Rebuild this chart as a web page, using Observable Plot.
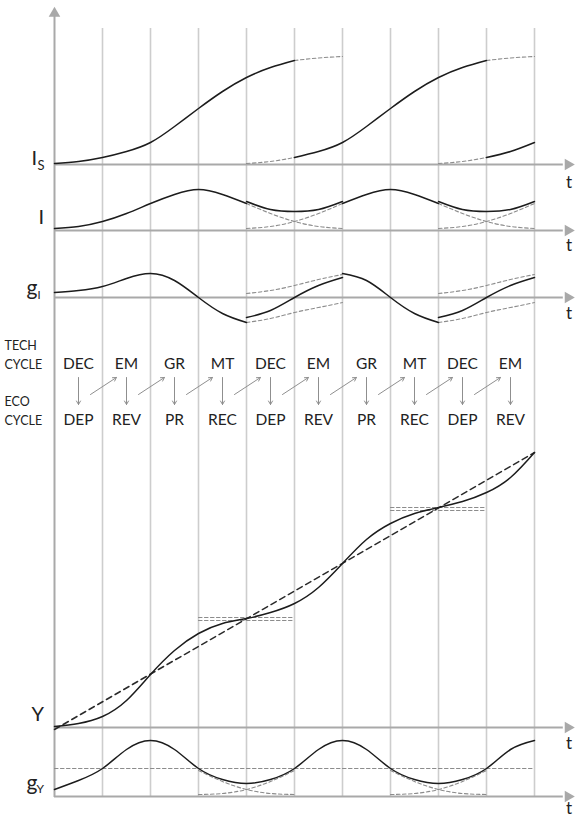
<!DOCTYPE html>
<html><head><meta charset="utf-8">
<script src="https://cdn.jsdelivr.net/npm/d3@7"></script>
<script src="https://cdn.jsdelivr.net/npm/@observablehq/plot@0.6"></script>
<style>body{margin:0;background:#fff}#chart{width:576px;height:818px}</style>
</head><body><div id="chart"></div>
<script>
// ---------------- DATA ----------------
const techPhases = ["DEC","EM","GR","MT","DEC","EM","GR","MT","DEC","EM"];
const ecoPhases  = ["DEP","REV","PR","REC","DEP","REV","PR","REC","DEP","REV"];
const cycleStarts = [0, 4, 8];                 // a new technology cycle every 4 phases

// local time of one cycle, half-phase steps
const localT = [0,0.5,1,1.5,2,2.5,3,3.5,4,4.5,5,5.5,6];
// I_S : S-shaped cumulative stock of one cycle
const isShape = [1,3,7,13,22,38,56,73,87,97,104,106.5,108];
// I : bell-shaped investment of one cycle
const iShape  = [2,4,9,17,27,36,41,36,27,17,9,4,2];
// I during the overlap of two cycles (local time 4..6)
const overlapT = [4,4.5,5,5.5,6];
const iOverlap = [29,21,19,21,29];
// g_I of one cycle (local time 0..4)
const gT = [0,0.5,1,1.5,2,2.5,3,3.5,4];
const gShape = [5,7,11,19,24,17,0,-16,-25];
const gOverlap = [-20,-13,0,12,20];
const gUpper   = [4,7,12,18,23];
const gLower   = [-25,-21,-15,-10,-5];
// Y : output, whole horizon
const fullT = [0,0.5,1,1.5,2,2.5,3,3.5,4,4.5,5,5.5,6,6.5,7,7.5,8,8.5,9,9.5,10];
const yCurve = [1,4,11,27,53,77,94,104,109,115,124,140,164,188,204,214,220,226,235,250,275];
const yTrendT = [0,10];
const yTrend  = [-2,275];
const plateauStarts = [3,7];
const plateauUpper = [110,220];
const plateauLower = [107,217];
// g_Y : growth of output
const gyCurve = [7,16,28,47,56,47,28,17,13,17,28,47,56,47,28,17,13,17,28,47,56];
const gyMean = 28;
const gyWinT  = [0,0.5,1,1.5,2];   // relative to plateau start
const gyDecay = [26,15,7,3,2];
const gyRise  = [2,3,7,15,26];

// ---------------- LAYOUT ----------------
const W = 576, H = 818;
const BASE = {Is:164, I:230, gI:297, Y:727, gY:796};   // axis rows (px from top)
const yy = (panel, v) => H - BASE[panel] + v;
const py = px => H - px;                               // layout px from top -> y scale

let segId = 0;
function seg(ts, vs, panel, offset, from, to) {
  const id = segId++;
  const out = [];
  ts.forEach((t, i) => {
    if (t >= from - 1e-9 && t <= to + 1e-9) out.push({t: t + offset, y: yy(panel, vs[i]), id});
  });
  return out;
}

const solid = [], dashed = [];
// I_S
solid.push(...seg(localT, isShape, "Is", 0, 0, 5));
dashed.push(...seg(localT, isShape, "Is", 0, 5, 6));
dashed.push(...seg(localT, isShape, "Is", 4, 0, 1));
solid.push(...seg(localT, isShape, "Is", 4, 1, 5));
dashed.push(...seg(localT, isShape, "Is", 4, 5, 6));
dashed.push(...seg(localT, isShape, "Is", 8, 0, 1));
solid.push(...seg(localT, isShape, "Is", 8, 1, 2));
// I
solid.push(...seg(localT, iShape, "I", 0, 0, 4));
dashed.push(...seg(localT, iShape, "I", 0, 4, 6));
dashed.push(...seg(localT, iShape, "I", 4, 0, 2));
solid.push(...seg(localT, iShape, "I", 4, 2, 4));
dashed.push(...seg(localT, iShape, "I", 4, 4, 6));
dashed.push(...seg(localT, iShape, "I", 8, 0, 2));
solid.push(...seg(overlapT, iOverlap, "I", 0, 4, 6));
solid.push(...seg(overlapT, iOverlap, "I", 4, 4, 6));
// g_I
solid.push(...seg(gT, gShape, "gI", 0, 0, 4));
solid.push(...seg(gT, gShape, "gI", 4, 2, 4));
for (const o of [0, 4]) {
  solid.push(...seg(overlapT, gOverlap, "gI", o, 4, 6));
  dashed.push(...seg(overlapT, gUpper, "gI", o, 4, 6));
  dashed.push(...seg(overlapT, gLower, "gI", o, 4, 6));
}
// Y
solid.push(...seg(fullT, yCurve, "Y", 0, 0, 10));
plateauStarts.forEach((s, i) => {
  dashed.push(...seg([0, 2], [plateauUpper[i], plateauUpper[i]], "Y", s, 0, 2));
  dashed.push(...seg([0, 2], [plateauLower[i], plateauLower[i]], "Y", s, 0, 2));
});
const trend = seg(yTrendT, yTrend, "Y", 0, 0, 10);
// g_Y
solid.push(...seg(fullT, gyCurve, "gY", 0, 0, 10));
dashed.push(...seg([0, 10], [gyMean, gyMean], "gY", 0, 0, 10));
plateauStarts.forEach(s => {
  dashed.push(...seg(gyWinT, gyDecay, "gY", s, 0, 2));
  dashed.push(...seg(gyWinT, gyRise, "gY", s, 0, 2));
});

const phaseCols = techPhases.map((p, i) => ({t: i + 0.5, tech: p, eco: ecoPhases[i]}));
const diagonals = phaseCols.slice(0, -1);

const AX = "#a9a9a9", GRID = "#cdcdcd", INK = "#222", FONT = "Lato, 'Open Sans', sans-serif";
const axisRows = Object.keys(BASE);
const tLabelRows = [{p:"Is", d:18}, {p:"I", d:15}, {p:"gI", d:16}, {p:"Y", d:16}, {p:"gY", d:12}];

const plot = Plot.plot({
  width: W, height: H,
  marginTop: 0, marginBottom: 0, marginLeft: 0, marginRight: 0,
  x: {domain: [-54/48, (W - 54)/48], axis: null},
  y: {domain: [0, H], axis: null},
  marks: [
    // phase boundaries
    Plot.ruleX(d3.range(1, 11), {y1: py(796), y2: py(28), stroke: GRID, strokeWidth: 1.6}),
    // vertical axis
    Plot.ruleX([0], {y1: py(797), y2: py(14), stroke: AX, strokeWidth: 2}),
    Plot.dot([0], {x: d => d, y: py(13), symbol: "triangle", r: 4.3, fill: AX, stroke: null}),
    // horizontal axes
    Plot.ruleY(axisRows, {y: p => yy(p, 0), x1: 0, x2: 10.6, stroke: AX, strokeWidth: 2}),
    Plot.dot(axisRows, {x: 10.7, y: p => yy(p, 0), symbol: "triangle", rotate: 90, r: 4.3, fill: AX, stroke: null}),
    // curves
    Plot.line(dashed, {x: "t", y: "y", z: "id", curve: "natural", stroke: "#8c8c8c", strokeWidth: 1.1, strokeDasharray: "3.5,2.5"}),
    Plot.line(trend, {x: "t", y: "y", z: "id", stroke: "#2a2a2a", strokeWidth: 1.5, strokeDasharray: "6,4"}),
    Plot.line(solid, {x: "t", y: "y", z: "id", curve: "natural", stroke: "#1c1c1c", strokeWidth: 1.5}),
    // cycle phases
    Plot.text(phaseCols, {x: "t", y: py(364), text: "tech", fontSize: 15.5, fill: INK, fontFamily: FONT}),
    Plot.text(phaseCols, {x: "t", y: py(420), text: "eco", fontSize: 15.5, fill: INK, fontFamily: FONT}),
    Plot.arrow(phaseCols, {x1: "t", x2: "t", y1: py(377), y2: py(404), stroke: "#8f8f8f", strokeWidth: 1, headLength: 6}),
    Plot.arrow(diagonals, {x1: d => d.t + 0.25, x2: d => d.t + 0.79, y1: py(394), y2: py(377), stroke: "#8f8f8f", strokeWidth: 1, headLength: 6}),
    // left labels
    Plot.text(["TECH","CYCLE","ECO","CYCLE"], {frameAnchor: "left", dx: 4, y: (d, i) => py([345, 364, 401, 420][i]), text: d => d, textAnchor: "start", fontSize: 12.5, fill: INK, fontFamily: FONT}),
    Plot.text(["I"], {frameAnchor: "left", dx: 31, y: py(158), textAnchor: "start", text: d => d, fontSize: 20, fill: INK, fontFamily: FONT}),
    Plot.text(["S"], {frameAnchor: "left", dx: 37, y: py(165), textAnchor: "start", text: d => d, fontSize: 13, fill: INK, fontFamily: FONT}),
    Plot.text(["I"], {frameAnchor: "left", dx: 38, y: py(217), textAnchor: "start", text: d => d, fontSize: 20, fill: INK, fontFamily: FONT}),
    Plot.text(["g"], {frameAnchor: "left", dx: 26, y: py(288), textAnchor: "start", text: d => d, fontSize: 21, fill: INK, fontFamily: FONT}),
    Plot.text(["I"], {frameAnchor: "left", dx: 37, y: py(295), textAnchor: "start", text: d => d, fontSize: 11, fill: INK, fontFamily: FONT}),
    Plot.text(["Y"], {frameAnchor: "left", dx: 31, y: py(714), textAnchor: "start", text: d => d, fontSize: 20, fill: INK, fontFamily: FONT}),
    Plot.text(["g"], {frameAnchor: "left", dx: 26, y: py(783), textAnchor: "start", text: d => d, fontSize: 21, fill: INK, fontFamily: FONT}),
    Plot.text(["Y"], {frameAnchor: "left", dx: 36, y: py(789), textAnchor: "start", text: d => d, fontSize: 12, fill: INK, fontFamily: FONT}),
    // t labels
    Plot.text(tLabelRows, {x: 10.72, y: d => yy(d.p, -d.d), text: () => "t", fontSize: 17, fill: INK, fontFamily: FONT})
  ]
});
document.getElementById("chart").appendChild(plot);
</script>
</body></html>
